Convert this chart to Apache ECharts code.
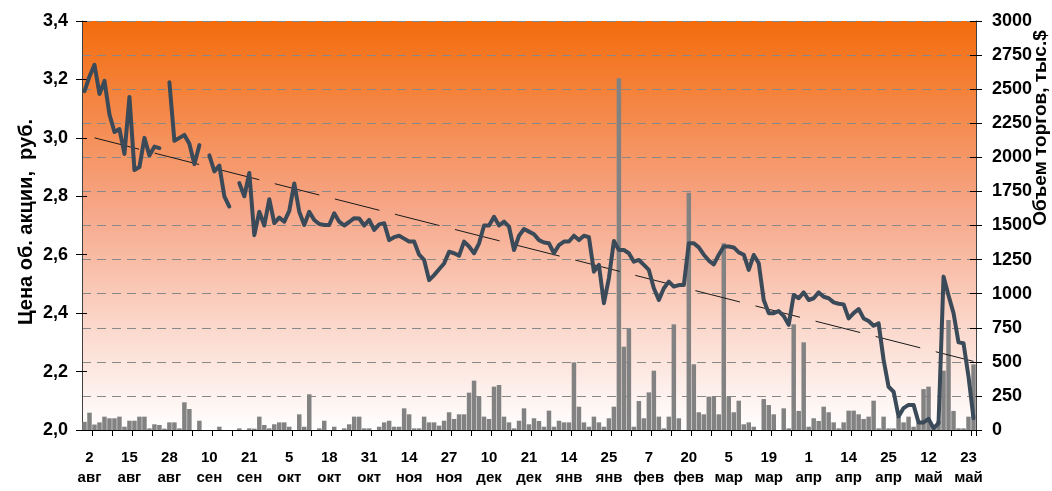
<!DOCTYPE html>
<html>
<head>
<meta charset="utf-8">
<script src="https://cdn.jsdelivr.net/npm/echarts@6/dist/echarts.min.js"></script>
<style>
html,body{margin:0;padding:0;background:#fff;}
#chart{width:1052px;height:491px;}
</style>
</head>
<body>
<div id="chart"></div>
<script>
// ---- data ----
const labelDays = ['2','15','28','10','21','5','18','31','14','27','10','21','14','25','7','20','5','19','1','14','25','12','23'];
const labelMonths = ['авг','авг','авг','сен','сен','окт','окт','окт','ноя','ноя','дек','дек','янв','янв','фев','фев','мар','мар','апр','апр','апр','май','май'];

// price per trading day, rub. (null = no trades)
const price = [
 3.16,3.21,3.25,3.15,3.195,3.08,3.02,3.03,2.945,3.14,
 2.89,2.90,3.00,2.94,2.97,2.965,null,3.19,2.99,3.00,
 3.01,2.98,2.91,2.975,null,2.94,2.885,2.905,2.80,2.765,
 null,2.845,2.80,2.88,2.667,2.747,2.70,2.79,2.708,2.727,
 2.713,2.75,2.844,2.747,2.702,2.747,2.719,2.705,2.702,2.702,
 2.742,2.713,2.70,2.712,2.725,2.724,2.70,2.719,2.685,2.704,
 2.708,2.65,2.66,2.665,2.655,2.645,2.645,2.60,2.582,2.513,
 2.53,2.55,2.57,2.61,2.605,2.597,2.645,2.628,2.605,2.639,
 2.70,2.70,2.73,2.70,2.713,2.696,2.616,2.665,2.688,2.679,
 2.67,2.65,2.642,2.639,2.605,2.633,2.645,2.645,2.665,2.65,
 2.665,2.66,2.542,2.565,2.434,2.52,2.647,2.616,2.616,2.605,
 2.576,2.582,2.565,2.548,2.485,2.445,2.485,2.508,2.491,2.496,
 2.496,2.639,2.639,2.625,2.60,2.58,2.567,2.60,2.628,2.628,
 2.625,2.608,2.60,2.548,2.599,2.571,2.445,2.40,2.40,2.407,
 2.39,2.36,2.462,2.451,2.471,2.445,2.451,2.471,2.456,2.451,
 2.437,2.432,2.43,2.382,2.40,2.414,2.382,2.373,2.357,2.365,
 2.24,2.148,2.131,2.046,2.075,2.086,2.086,2.026,2.026,2.038,
 2.006,2.023,2.525,2.46,2.40,2.30,2.297,2.183,2.04
];

// trading volume, thousand $
const volume = [
 60,127,40,56,98,86,86,98,24,68,
 68,98,98,12,42,37,10,56,56,12,
 203,154,0,68,0,0,0,24,0,0,
 0,12,0,12,10,98,37,12,42,56,
 56,24,0,115,24,262,0,12,68,0,
 24,0,12,42,98,98,12,12,0,24,
 56,68,24,24,159,115,12,12,98,56,
 56,32,68,130,81,115,115,274,362,245,
 98,81,318,330,98,56,12,68,159,42,
 86,66,24,142,24,68,56,56,496,171,
 56,24,98,56,24,86,171,2580,611,741,
 24,213,86,276,435,98,12,98,775,86,
 0,1741,482,130,115,245,245,115,1369,245,
 130,215,42,56,24,0,227,183,115,0,
 159,12,775,140,643,24,86,66,171,130,
 56,12,56,142,142,115,81,98,215,12,
 98,12,12,98,56,98,24,56,300,318,
 12,66,435,807,140,12,12,98,482
];

// linear trend of price: [start index, end index] and values
const trendIdx = [2, 178];
const trendVal = [3.00, 2.235];

const leftTicks = {min: 2.0, max: 3.4, step: 0.2};
const rightTicks = {min: 0, max: 3000, step: 250};

// ---- build ----
const N = price.length;
const categories = price.map((_, i) => 'd' + i);
const labelAt = {};
labelDays.forEach((d, k) => { labelAt[1 + 8 * k] = d + '\n' + labelMonths[k]; });
const trend = price.map(() => null);
trend[trendIdx[0]] = trendVal[0];
trend[trendIdx[1]] = trendVal[1];

const FONT = '"Liberation Sans", Arial, sans-serif';
const chart = echarts.init(document.getElementById('chart'), null, {renderer: 'canvas'});

const bg = new echarts.graphic.LinearGradient(0, 0, 0, 1, [
  {offset: 0, color: '#f36c0c'},
  {offset: 0.45, color: '#f6a586'},
  {offset: 0.75, color: '#fbd8cc'},
  {offset: 1, color: '#ffffff'}
]);

chart.setOption({
  animation: false,
  backgroundColor: '#ffffff',
  grid: {left: 82, right: 76, top: 21, bottom: 61, show: true, backgroundColor: bg, borderWidth: 0},
  xAxis: {
    type: 'category',
    data: categories,
    boundaryGap: true,
    axisLine: {show: true, lineStyle: {color: '#000', width: 1}},
    axisTick: {show: true, length: 6, lineStyle: {color: '#000'}, interval: (i) => i % 4 === 2},
    axisLabel: {
      interval: (i) => labelAt[i] !== undefined,
      formatter: (v, i) => labelAt[i] || '',
      fontFamily: FONT, fontWeight: 'bold', fontSize: 15, color: '#000',
      lineHeight: 20, margin: 18
    },
    splitLine: {show: false}
  },
  yAxis: [
    {
      type: 'value', position: 'left',
      min: leftTicks.min, max: leftTicks.max, interval: leftTicks.step,
      axisLine: {show: true, lineStyle: {color: '#404040'}},
      axisTick: {show: true, length: 6, lineStyle: {color: '#000'}},
      axisLabel: {formatter: (v) => v.toFixed(1).replace('.', ','), fontFamily: FONT, fontWeight: 'bold', fontSize: 18, color: '#000', margin: 14},
      splitLine: {show: false}
    },
    {
      type: 'value', position: 'right',
      min: rightTicks.min, max: rightTicks.max, interval: rightTicks.step,
      axisLine: {show: true, lineStyle: {color: '#404040'}},
      axisTick: {show: true, length: 6, lineStyle: {color: '#000'}},
      axisLabel: {formatter: (v) => String(Math.round(v)), fontFamily: FONT, fontWeight: 'bold', fontSize: 18, color: '#000', margin: 16},
      splitLine: {show: true, lineStyle: {color: '#888888', width: 1, type: [9, 6]}}
    },
    {
      type: 'value', position: 'right',
      min: rightTicks.min, max: rightTicks.max, interval: rightTicks.step,
      axisLine: {show: false},
      axisTick: {show: true, inside: true, length: 6, lineStyle: {color: '#000'}},
      axisLabel: {show: false}, splitLine: {show: false}
    },
    {
      type: 'value', position: 'left',
      min: leftTicks.min, max: leftTicks.max, interval: leftTicks.step,
      axisLine: {show: false},
      axisTick: {show: true, inside: true, length: 5, lineStyle: {color: '#000'}},
      axisLabel: {show: false}, splitLine: {show: false}
    }
  ],
  series: [
    {
      name: 'Объем торгов', type: 'bar', yAxisIndex: 1, data: volume,
      barCategoryGap: '10%',
      itemStyle: {color: '#828282'}, z: 1
    },
    {
      name: 'Тренд', type: 'line', yAxisIndex: 0, data: trend, connectNulls: true,
      symbol: 'none', lineStyle: {color: '#1a1a1a', width: 1, type: [46, 16]}, z: 2, silent: true
    },
    {
      name: 'Цена', type: 'line', yAxisIndex: 0, data: price, connectNulls: false,
      symbol: 'none', lineStyle: {color: '#3b4a59', width: 4, join: 'round', cap: 'round'}, z: 3
    }
  ],
  graphic: [
    {type: 'text', x: 26, y: 222, rotation: Math.PI / 2,
     style: {text: 'Цена об. акции,  руб.', font: 'bold 20px ' + FONT, fill: '#000', align: 'center', verticalAlign: 'middle'}},
    {type: 'text', x: 1041, y: 128, rotation: Math.PI / 2,
     style: {text: 'Объем торгов, тыс.$', font: 'bold 19px ' + FONT, fill: '#000', align: 'center', verticalAlign: 'middle'}}
  ]
});
</script>
</body>
</html>
